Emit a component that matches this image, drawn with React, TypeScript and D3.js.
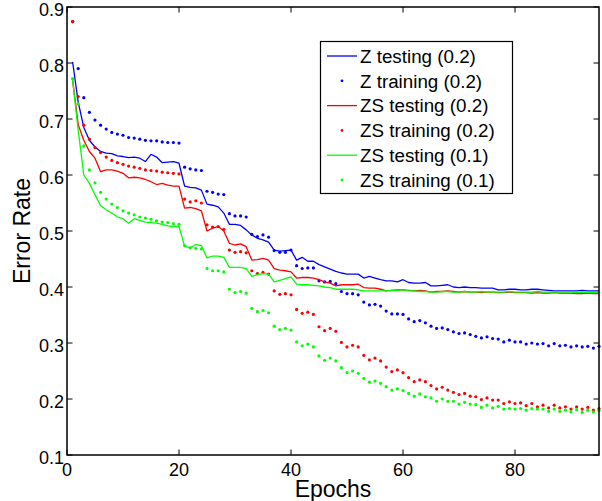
import React from "react";
import * as d3 from "d3";

const zTest = [0.802,0.730,0.685,0.662,0.650,0.642,0.639,0.638,0.634,0.633,0.631,0.632,0.630,0.624,0.637,0.632,0.622,0.623,0.624,0.621,
0.580,0.578,0.577,0.573,0.548,0.546,0.543,0.532,0.512,0.512,0.510,0.502,0.493,0.487,0.484,0.480,0.466,0.464,0.465,0.466,
0.448,0.453,0.446,0.446,0.440,0.436,0.432,0.428,0.425,0.423,0.423,0.423,0.416,0.419,0.416,0.413,0.411,0.411,0.409,0.413,
0.408,0.407,0.407,0.408,0.402,0.402,0.403,0.404,0.400,0.399,0.400,0.399,0.399,0.398,0.398,0.398,0.395,0.395,0.396,0.396,
0.395,0.395,0.396,0.396,0.395,0.394,0.393,0.393,0.393,0.393,0.393,0.394,0.393,0.393,0.393];

const zTrain = [0.874,0.790,0.738,0.712,0.698,0.689,0.682,0.676,0.673,0.671,0.667,0.666,0.664,0.662,0.661,0.661,0.659,0.658,0.658,0.657,
0.614,0.611,0.609,0.608,0.571,0.569,0.566,0.565,0.531,0.527,0.527,0.525,0.494,0.490,0.493,0.489,0.465,0.462,0.462,0.466,
0.438,0.433,0.434,0.434,0.411,0.409,0.410,0.406,0.392,0.388,0.388,0.386,0.373,0.368,0.369,0.366,0.357,0.352,0.352,0.351,
0.343,0.338,0.340,0.336,0.330,0.326,0.327,0.324,0.320,0.317,0.318,0.315,0.312,0.309,0.311,0.308,0.307,0.302,0.305,0.302,
0.302,0.298,0.300,0.298,0.299,0.295,0.299,0.295,0.296,0.293,0.295,0.293,0.294,0.291,0.294];

const zsTest2 = [0.770,0.690,0.662,0.642,0.630,0.606,0.609,0.609,0.607,0.603,0.595,0.596,0.595,0.592,0.588,0.583,0.585,0.582,0.580,0.580,
0.541,0.542,0.540,0.536,0.500,0.505,0.508,0.500,0.478,0.475,0.477,0.472,0.448,0.449,0.451,0.448,0.433,0.430,0.429,0.427,
0.416,0.417,0.417,0.416,0.413,0.409,0.407,0.402,0.404,0.404,0.404,0.405,0.399,0.398,0.398,0.396,0.393,0.394,0.395,0.395,
0.394,0.393,0.394,0.393,0.391,0.392,0.392,0.393,0.392,0.391,0.392,0.391,0.391,0.390,0.391,0.391,0.390,0.390,0.391,0.390,
0.390,0.390,0.389,0.390,0.389,0.389,0.390,0.389,0.389,0.389,0.388,0.388,0.389,0.388,0.388];

const zsTrain2 = [0.874,0.740,0.689,0.664,0.649,0.640,0.632,0.626,0.622,0.619,0.616,0.614,0.612,0.609,0.608,0.607,0.605,0.604,0.603,0.602,
0.557,0.552,0.554,0.550,0.511,0.507,0.508,0.503,0.466,0.462,0.463,0.461,0.429,0.424,0.426,0.423,0.393,0.387,0.388,0.386,
0.360,0.353,0.355,0.351,0.329,0.322,0.326,0.321,0.301,0.293,0.296,0.293,0.278,0.270,0.273,0.268,0.257,0.249,0.252,0.247,
0.238,0.231,0.234,0.231,0.224,0.218,0.221,0.216,0.212,0.208,0.210,0.205,0.204,0.199,0.202,0.198,0.198,0.192,0.195,0.192,
0.193,0.188,0.192,0.186,0.189,0.184,0.189,0.184,0.186,0.182,0.186,0.182,0.185,0.180,0.183];

const zsTest1 = [0.770,0.680,0.600,0.585,0.565,0.545,0.538,0.532,0.525,0.522,0.514,0.522,0.519,0.516,0.515,0.514,0.512,0.509,0.508,0.508,
0.473,0.470,0.476,0.474,0.452,0.455,0.455,0.453,0.435,0.435,0.435,0.433,0.419,0.422,0.424,0.423,0.409,0.412,0.415,0.418,
0.405,0.404,0.404,0.403,0.402,0.400,0.399,0.396,0.396,0.396,0.396,0.395,0.393,0.393,0.393,0.393,0.393,0.394,0.394,0.395,
0.393,0.393,0.392,0.392,0.391,0.391,0.392,0.392,0.391,0.391,0.392,0.391,0.391,0.392,0.391,0.391,0.391,0.391,0.392,0.391,
0.391,0.391,0.391,0.392,0.391,0.391,0.391,0.391,0.391,0.391,0.390,0.391,0.390,0.390,0.390];

const zsTrain1 = [0.772,0.727,0.652,0.609,0.586,0.569,0.557,0.548,0.542,0.536,0.532,0.529,0.525,0.523,0.521,0.518,0.516,0.515,0.513,0.512,
0.474,0.470,0.469,0.468,0.433,0.429,0.429,0.427,0.396,0.390,0.392,0.389,0.362,0.356,0.358,0.354,0.330,0.324,0.326,0.323,
0.302,0.295,0.298,0.293,0.277,0.269,0.273,0.268,0.256,0.247,0.250,0.246,0.237,0.230,0.232,0.228,0.222,0.216,0.218,0.215,
0.210,0.205,0.209,0.204,0.202,0.196,0.200,0.196,0.196,0.191,0.194,0.191,0.190,0.185,0.189,0.184,0.187,0.182,0.183,0.182,
0.183,0.180,0.183,0.182,0.182,0.178,0.182,0.178,0.180,0.177,0.181,0.176,0.180,0.177,0.180];

const seriesNames = ["Z testing (0.2)", "Z training (0.2)", "ZS testing (0.2)", "ZS training (0.2)", "ZS testing (0.1)", "ZS training (0.1)"];
const seriesColors = ["#0000ff", "#0000ff", "#ff0000", "#ff0000", "#00ff00", "#00ff00"];
const seriesKinds = ["line", "dot", "line", "dot", "line", "dot"];
const seriesData = [zTest, zTrain, zsTest2, zsTrain2, zsTest1, zsTrain1];

const xTicks = [0, 20, 40, 60, 80];
const yTicks = [0.1, 0.2, 0.3, 0.4, 0.5, 0.6, 0.7, 0.8, 0.9];

export default function App() {
  const W = 602, H = 501;
  const x = d3.scaleLinear().domain([0, 95]).range([67, 599]);
  const y = d3.scaleLinear().domain([0.1, 0.9]).range([455, 7]);
  const font = "'Liberation Sans', Arial, Helvetica, sans-serif";
  const line = d3.line<number>().x((_, i) => x(i + 1)).y((d) => y(d));
  const tl = 5.5;
  const [x0, x1] = x.range();
  const [y0, y1] = y.range();

  const legX = 320.5, legY = 41.5, legW = 192, legH = 152, rowH = 24.8;

  return (
    <svg width={W} height={H} style={{ position: "absolute", left: 0, top: 0, background: "#fff" }}>
      <rect x={0} y={0} width={W} height={H} fill="#fff" />
      {seriesData.map((data, si) =>
        seriesKinds[si] === "line" ? (
          <path key={si} d={line(data) || ""} fill="none" stroke={seriesColors[si]} strokeWidth={1.3} strokeLinejoin="round" />
        ) : (
          <g key={si} fill={seriesColors[si]}>
            {data.map((v, i) => (
              <circle key={i} cx={x(i + 1)} cy={y(v)} r={1.6} />
            ))}
          </g>
        )
      )}
      <rect x={x0} y={y1} width={x1 - x0} height={y0 - y1} fill="none" stroke="#000" strokeWidth={1.5} />
      {xTicks.map((t) => (
        <g key={"x" + t}>
          <line x1={x(t)} x2={x(t)} y1={y0} y2={y0 - tl} stroke="#000" strokeWidth={1} />
          <line x1={x(t)} x2={x(t)} y1={y1} y2={y1 + tl} stroke="#000" strokeWidth={1} />
          <text x={x(t)} y={y0 + 21} textAnchor="middle" fontFamily={font} fontSize={18} fill="#000">{t}</text>
        </g>
      ))}
      {yTicks.map((t) => (
        <g key={"y" + t}>
          <line x1={x0} x2={x0 + tl} y1={y(t)} y2={y(t)} stroke="#000" strokeWidth={1} />
          <line x1={x1} x2={x1 - tl} y1={y(t)} y2={y(t)} stroke="#000" strokeWidth={1} />
          <text x={x0 - 3} y={y(t) + 8.5} textAnchor="end" fontFamily={font} fontSize={18} fill="#000">{t.toFixed(1)}</text>
        </g>
      ))}
      <text x={(x0 + x1) / 2} y={497} textAnchor="middle" fontFamily={font} fontSize={23} fill="#000">Epochs</text>
      <text transform={`translate(30, ${(y0 + y1) / 2}) rotate(-90)`} textAnchor="middle" fontFamily={font} fontSize={23} fill="#000">Error Rate</text>
      <rect x={legX} y={legY} width={legW} height={legH} fill="#fff" stroke="#000" strokeWidth={1.2} />
      {seriesNames.map((name, i) => {
        const cy = legY + 14.5 + i * rowH;
        return (
          <g key={name}>
            {seriesKinds[i] === "line" ? (
              <line x1={327} x2={357} y1={cy} y2={cy} stroke={seriesColors[i]} strokeWidth={1.3} />
            ) : (
              <circle cx={342} cy={cy} r={1.4} fill={seriesColors[i]} />
            )}
            <text x={360} y={cy + 6.8} fontFamily={font} fontSize={18.8} fill="#000">{name}</text>
          </g>
        );
      })}
    </svg>
  );
}
